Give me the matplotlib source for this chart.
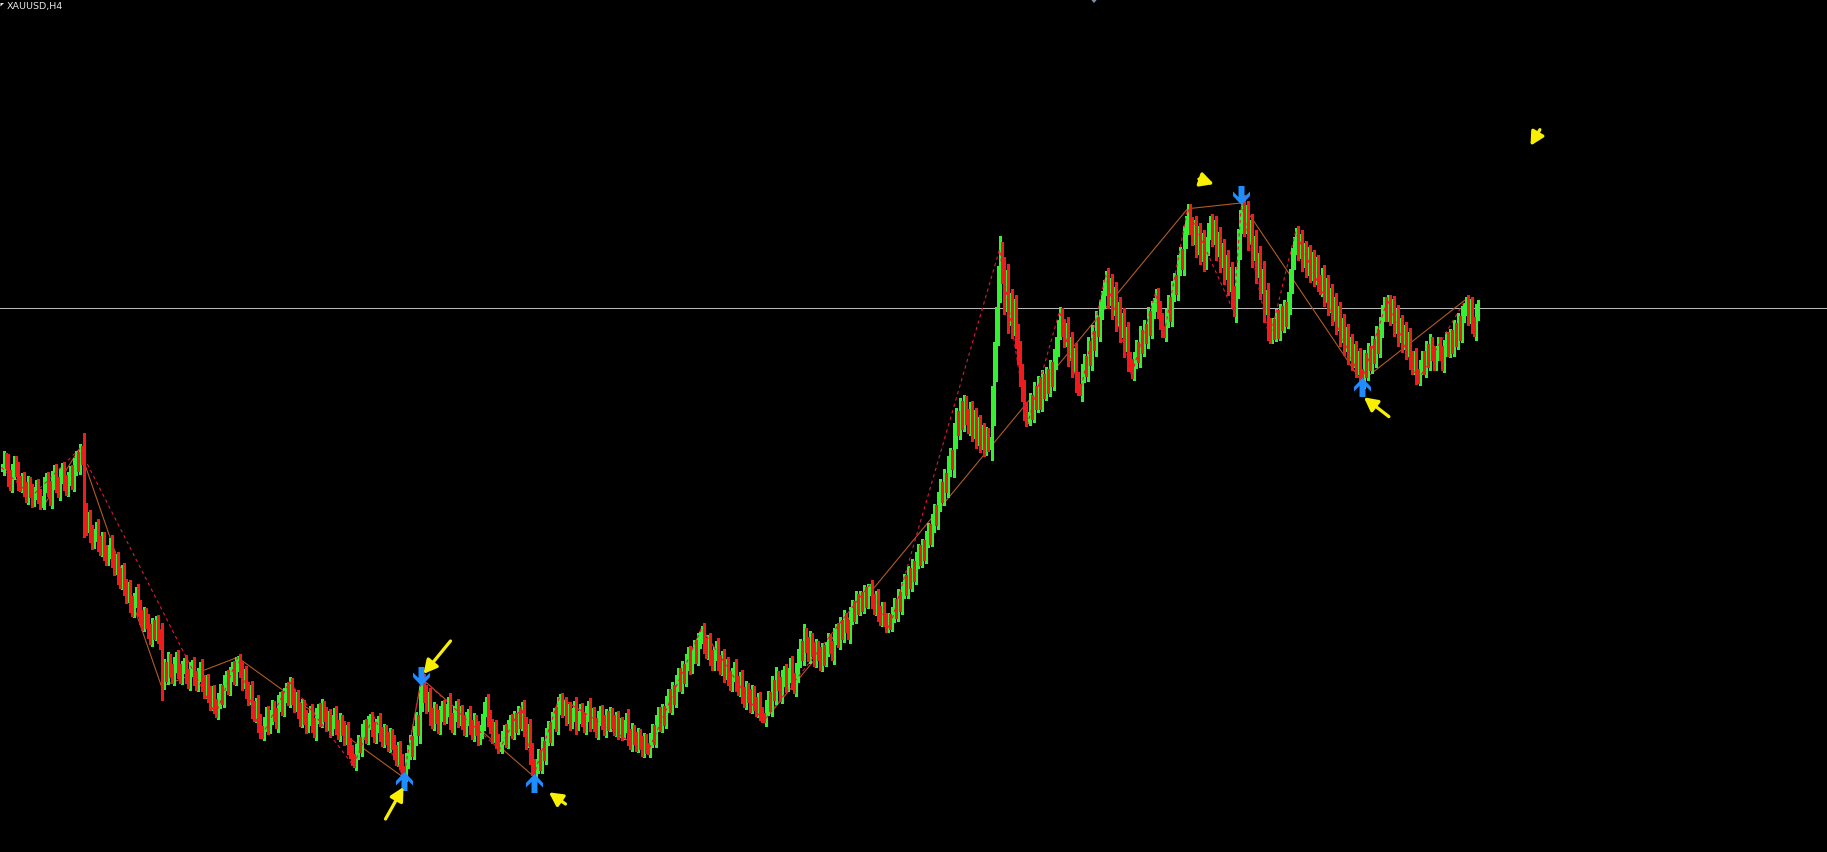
"""
XAUUSD H4 bar chart in MT4 style: OHLC bars, two zigzag overlays,
signal arrows and pointer arrows on a black background.
"""

import numpy as np
import matplotlib
matplotlib.use("Agg")
import matplotlib.pyplot as plt
from matplotlib.path import Path
from matplotlib.patches import Polygon

# ---------------------------------------------------------------------------
# Data  (x = bar index, price in chart units)
# ---------------------------------------------------------------------------

closes = [
    330, 338, 334, 322, 316, 326, 334, 328, 318, 314,
    320, 312, 306, 316, 310, 302, 308, 314, 306, 300,
    302, 314, 320, 312, 304, 318, 326, 316, 310, 322,
    328, 318, 312, 320, 326, 318, 330, 338, 332, 343,
    338, 292, 280, 286, 274, 266, 272, 278, 266, 260,
    268, 258, 252, 258, 264, 252, 244, 250, 238, 232,
    240, 228, 220, 226, 214, 208, 216, 222, 210, 202,
    196, 204, 198, 190, 184, 194, 188, 196, 186, 180, 147,
    158, 152, 164, 156, 150, 160, 166, 156, 150, 158,
    162, 152, 146, 156, 160, 150, 144, 152, 158, 146,
    138, 146, 136, 128, 136, 126, 121,
    130, 138, 132, 144, 150, 142, 152, 158, 150, 160,
    164, 156, 146, 152, 140, 132, 138, 124, 118, 126,
    112, 104, 102,
    110, 118, 108, 116, 124, 118, 112, 126, 132, 124, 134, 140, 132, 143,
    134, 126, 132, 122, 114, 124, 116, 108, 114, 120,
    110, 104, 116, 122, 114, 124, 118, 110, 116, 106,
    112, 118, 108, 102, 112, 106, 98, 104, 92, 86,
    80, 77,
    86, 94, 90, 102, 108, 100, 110, 114, 106, 100,
    108, 112, 102, 96, 104, 98, 92, 100, 94, 86,
    80, 88, 78, 70, 68,
    78, 86, 94, 88, 100, 112, 106, 130, 146,
    136, 126, 132, 118, 112, 122, 116, 108, 118, 124,
    116, 122, 128, 114, 108, 118, 124, 114, 120, 112,
    106, 114, 118, 108, 102, 112, 106, 98, 104, 112,
    122, 128, 116, 108, 100, 106, 96, 90, 91,
    98, 104, 96, 106, 112, 104, 114, 108, 118, 112,
    122, 108, 96, 104, 86, 74, 68,
    74, 82, 76, 90, 84, 98, 106, 100, 112, 118, 110, 124, 130,
    122, 126, 116, 122, 112, 118, 124, 110, 116, 122,
    114, 108, 118, 124, 112, 118, 110, 104, 114, 120,
    112, 106, 116, 110, 118, 112, 106, 114, 104, 110,
    102, 108, 114, 100, 94, 104, 98, 92, 100, 94,
    88, 96, 90, 88,
    96, 104, 98, 110, 118, 110, 120, 114, 126, 134,
    126, 138, 132, 144, 152, 144, 156, 150, 162, 170,
    160, 168, 176, 168, 180, 184, 189,
    178, 172, 180, 168, 162, 170, 176, 164, 158, 166,
    154, 160, 150, 144, 152, 158, 146, 140, 148, 136,
    130, 140, 134, 126, 136, 128, 122, 130, 120, 116,
    115,
    124, 132, 126, 142, 136, 150, 144, 136, 148, 154,
    144, 152, 160, 148, 142, 154, 166, 176, 170, 186,
    178, 170, 182, 174, 166, 176, 170, 162, 172, 166,
    174, 182, 176, 170, 184, 190, 182, 194, 188, 200,
    194, 188, 202, 210, 204, 216, 210, 218, 212, 222,
    216, 224, 226,
    216, 210, 218, 206, 200, 208, 200, 194, 200, 196,
    204, 212, 206, 218, 212, 224, 232, 226, 238, 232,
    244, 238, 250, 258, 252, 262, 256, 268, 276, 270,
    282, 292, 286, 300, 312, 306, 320, 314, 330, 340,
    334, 356, 372, 364, 380, 370, 384, 374, 366, 378,
    362, 372, 356, 366, 352, 360, 348, 358, 350, 352,
    384, 420, 452, 486, 514,
    498, 474, 490, 460, 472, 452, 466, 444, 428, 410, 396, 380, 372, 374,
    386, 378, 394, 386, 400, 388, 404, 396, 408, 400, 414, 406, 422, 434, 448, 460,
    450, 440, 448, 428, 436, 418, 426, 406, 398, 396,
    410, 420, 414, 432, 424, 442, 436, 454, 448, 464, 474, 484, 492,
    476, 486, 468, 478, 458, 466, 448, 456, 436, 444, 424, 418, 412,
    422, 432, 426, 442, 434, 448, 442, 458, 450, 464, 470, 477,
    466, 456, 448, 446,
    458, 470, 462, 480, 490, 484, 502, 512, 506, 526, 538, 549,
    538, 528, 536, 520, 530, 514, 524, 508, 520, 532,
    540, 528, 536, 518, 526, 508, 516, 498, 506, 488,
    496, 478, 467,
    490, 520, 540, 554,
    538, 548, 528, 536, 514, 522, 500, 508, 486, 494, 468, 476, 452, 443,
    452, 446, 458, 448, 462, 454, 466, 458, 472, 490, 508, 520, 529,
    516, 524, 508, 516, 502, 512, 498, 508, 494, 504,
    490, 484, 494, 478, 486, 470, 478, 462, 470, 454,
    462, 444, 452, 436, 444, 428, 436, 422, 430, 416,
    424, 410, 407,
    422, 414, 428, 420, 434, 426, 442, 434, 450, 462, 470, 462, 471,
    460, 468, 452, 460, 444, 452, 438, 446, 432, 440, 424, 416, 424, 410, 407,
    416, 424, 416, 430, 422, 436, 428, 420, 428, 436,
    428, 420, 432, 440, 432, 442, 434, 448, 440, 454,
    446, 460, 466, 471,
    460, 468, 454, 448, 462, 468,
]

# fast zigzag (red dashed) pivots
zz_fast_idx = [0, 15, 39, 107, 118, 130, 144, 176, 186, 201, 210, 249, 260, 266,
               279, 323, 350, 381, 434, 444, 499, 513, 529, 539, 552, 565, 577,
               581, 593, 616, 620, 634, 647, 680, 693, 708, 732]
zz_fast_px = [330, 305, 346, 118, 167, 99, 146, 74, 117, 64, 149, 88, 125, 65,
              133, 85, 192, 112, 229, 192, 517, 367, 464, 392, 495, 409, 480,
              442, 552, 464, 557, 440, 532, 404, 474, 404, 474]

# slow zigzag (orange solid) pivots
zz_slow_idx = [0, 21, 39, 80, 118, 201, 210, 266, 279, 323, 350, 381, 593,
               620, 680, 732]
zz_slow_px = [332, 297, 346, 142, 167, 64, 149, 65, 133, 85, 192, 112, 552,
              557, 404, 474]

bid_price = 467

# blue signal arrows
sig_up_idx = [201.25, 266, 680]
sig_up_px = [61, 59, 399]
sig_dn_idx = [209.5, 619.5]
sig_dn_px = [151, 564]

# yellow pointer arrows (tail -> head)
ptr_tail_idx = [192, 224.5, 282, 598.7, 769.2, 693.7]
ptr_tail_px = [28.3, 181.1, 41.2, 577.5, 619.9, 373.6]
ptr_head_idx = [201, 211, 273.7, 606.2, 764.5, 681.2]
ptr_head_px = [55.8, 152.8, 51.2, 573.2, 606.1, 390.2]

# ---------------------------------------------------------------------------
# Style
# ---------------------------------------------------------------------------

W, H = 1827, 853
BG = "black"
BULL = "#33f033"
BEAR = "#f01c1c"
ZZ_FAST = "#e0173c"
ZZ_SLOW = "#b25a26"
SIGNAL = "#1f8cff"
POINTER = "#f8f000"
WICK = 3          # fixed part of the shadow
WICK_REL = 0.4    # shadow that grows with the body


def _arrow_path(up=True):
    s = 1 if up else -1
    verts = [(0, 9.5), (8.5, 0.5), (8.5, -4), (3, 1.5), (3, -9.5),
             (-3, -9.5), (-3, 1.5), (-8.5, -4), (-8.5, 0.5), (0, 9.5)]
    verts = [(x, s * y) for x, y in verts]
    codes = [Path.MOVETO] + [Path.LINETO] * (len(verts) - 2) + [Path.CLOSEPOLY]
    return Path(verts, codes)


def _px(x, y):
    """Figure pixel (from top-left) -> figure fraction."""
    return (x / W, 1 - y / H)


def main():
    fig = plt.figure(figsize=(W / 100, H / 100), dpi=100, facecolor=BG)
    ax = fig.add_axes([0, 0, 1, 1])
    ax.set_facecolor(BG)
    ax.set_xlim(-0.75, W / 2 - 0.75)
    ax.set_ylim(0, 732)
    ax.axis("off")

    c = np.array(closes, dtype=float)
    o = np.r_[c[0], c[:-1]]
    body = np.abs(c - o)
    hi = np.maximum(o, c) + WICK + WICK_REL * body
    lo = np.minimum(o, c) - WICK - WICK_REL * body
    x = np.arange(len(c))
    up = c >= o

    # bid line and slow zigzag sit behind the bars
    ax.axhline(bid_price, color="#b8b8b8", lw=0.75, zorder=1)
    ax.plot(zz_slow_idx, zz_slow_px, color=ZZ_SLOW, lw=0.8, zorder=1.5)

    ax.vlines(x[up], lo[up], hi[up], color=BULL, lw=0.75, antialiased=False, zorder=2)
    ax.vlines(x[~up], lo[~up], hi[~up], color=BEAR, lw=0.75, antialiased=False, zorder=2)

    ax.plot(zz_fast_idx, zz_fast_px, color=ZZ_FAST, lw=0.8,
            linestyle=(0, (3, 3)), zorder=4)

    # signal arrows
    ax.plot(sig_up_idx, sig_up_px, ls="none", marker=_arrow_path(True), ms=13.7,
            mfc=SIGNAL, mec=SIGNAL, mew=0, zorder=5)
    ax.plot(sig_dn_idx, sig_dn_px, ls="none", marker=_arrow_path(False), ms=13.7,
            mfc=SIGNAL, mec=SIGNAL, mew=0, zorder=5)

    # yellow pointers
    for tx, tp, hx, hp in zip(ptr_tail_idx, ptr_tail_px, ptr_head_idx, ptr_head_px):
        ax.annotate("", xy=(hx, hp), xytext=(tx, tp),
                    arrowprops=dict(arrowstyle="-|>,head_length=0.8,head_width=0.42",
                                    color=POINTER, lw=2.3, shrinkA=0, shrinkB=0),
                    zorder=6)

    # header
    fig.text(7 / W, 1 - 2.5 / H, "XAUUSD,H4", color="#e6e6e6", fontsize=6.8,
             ha="left", va="top")
    fig.add_artist(Polygon([_px(0.5, 4), _px(4, 4), _px(0.5, 7.5)], closed=True,
                           transform=fig.transFigure, color="#e6e6e6", lw=0))
    fig.add_artist(Polygon([_px(1090.5, 0), _px(1097.5, 0), _px(1094, 4)], closed=True,
                           transform=fig.transFigure, color="#7d8ea5", lw=0))

    fig.savefig("out.png", dpi=100, facecolor=BG)
    plt.close(fig)


if __name__ == "__main__":
    main()
